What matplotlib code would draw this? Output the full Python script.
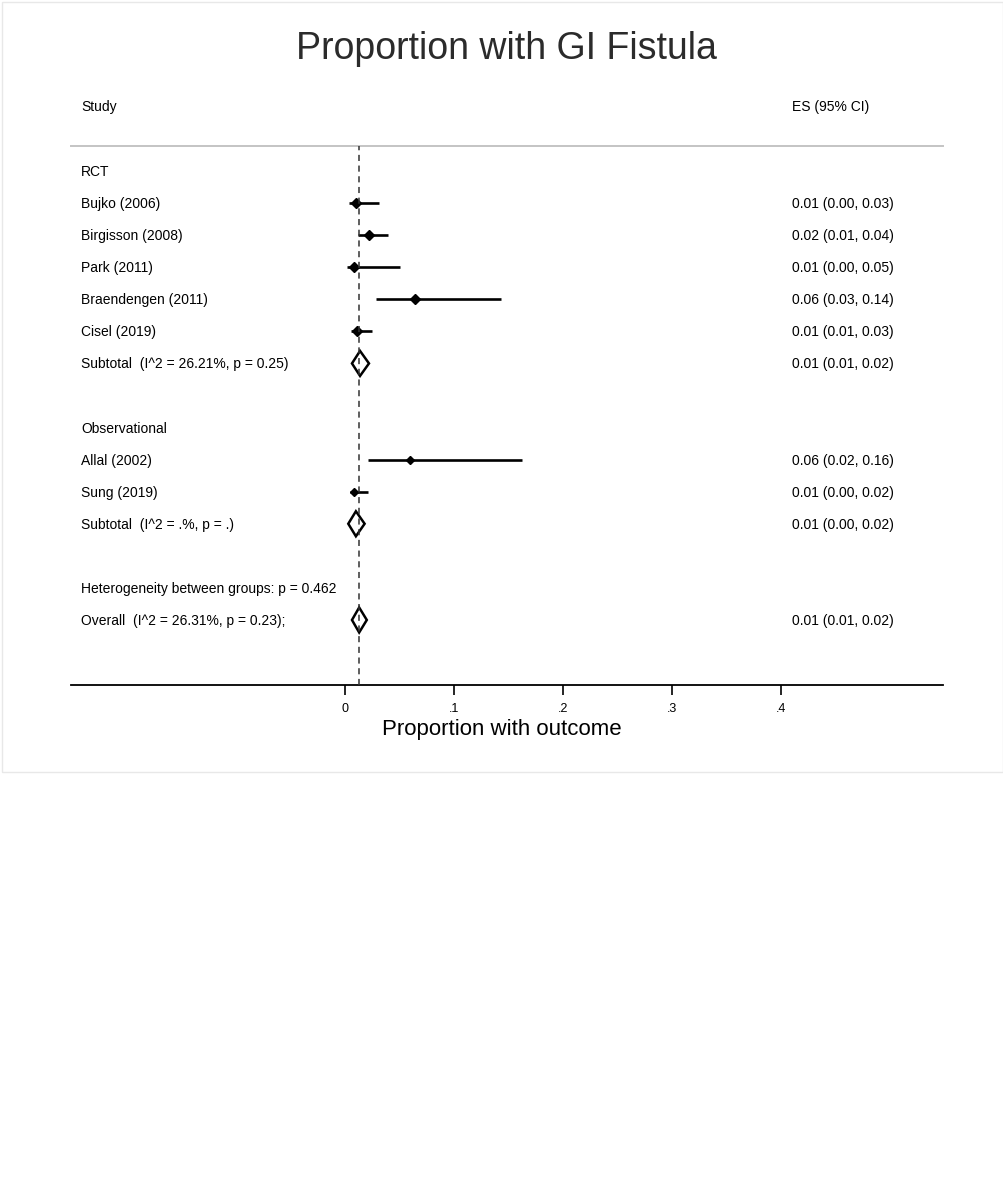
import matplotlib
matplotlib.use("Agg")
import matplotlib.pyplot as plt
import matplotlib.transforms as mtransforms
from matplotlib.patches import Polygon, Rectangle

plt.rcParams['font.family'] = ['Liberation Sans', 'DejaVu Sans']

# Datos
row_labels = ["RCT", "Bujko (2006)", "Birgisson (2008)", "Park (2011)", "Braendengen (2011)",
              "Cisel (2019)", "Subtotal  (I^2 = 26.21%, p = 0.25)", "",
              "Observational", "Allal (2002)", "Sung (2019)", "Subtotal  (I^2 = .%, p = .)", "",
              "Heterogeneity between groups: p = 0.462", "Overall  (I^2 = 26.31%, p = 0.23);"]
es_labels = ["", "0.01 (0.00, 0.03)", "0.02 (0.01, 0.04)", "0.01 (0.00, 0.05)", "0.06 (0.03, 0.14)",
             "0.01 (0.01, 0.03)", "0.01 (0.01, 0.02)", "",
             "", "0.06 (0.02, 0.16)", "0.01 (0.00, 0.02)", "0.01 (0.00, 0.02)", "",
             "", "0.01 (0.01, 0.02)"]

# estudios individuales: fila, estimacion, IC inferior, IC superior
study_rows = [1, 2, 3, 4, 5, 9, 10]
study_es = [0.010, 0.022, 0.008, 0.064, 0.011, 0.060, 0.008]
study_lo = [0.004, 0.012, 0.002, 0.028, 0.0055, 0.021, 0.0045]
study_hi = [0.031, 0.039, 0.050, 0.143, 0.025, 0.162, 0.021]
marker_ms = [5.5, 5.5, 5.5, 5, 5.5, 4.5, 4.5]

# subtotales y global (diamantes)
pooled_rows = [6, 11, 14]
pooled_es = [0.0138, 0.010, 0.013]
pooled_lo = [0.0064, 0.003, 0.0064]
pooled_hi = [0.022, 0.018, 0.020]

overall_es = 0.0128

xticks = [0, 0.1, 0.2, 0.3, 0.4]
xtick_labels = ["0", ".1", ".2", ".3", ".4"]

W, H = 1004, 1181
fig = plt.figure(figsize=(W / 100, H / 100), dpi=100)

# marco claro del grafico
fig.patches.append(Rectangle((2 / W, 1 - 772 / H), 1001 / W, 770 / H, transform=fig.transFigure,
                             fill=False, edgecolor='#e8e8e8', linewidth=1))

ax = fig.add_axes([71 / W, 1 - 685 / H, 872 / W, 539 / H])
ax.set_xlim((71 - 345) / 1090, (943 - 345) / 1090)
step = 32.07
ax.set_ylim((685 - 171) / step, (146 - 171) / step)

for s in ['left', 'right']:
    ax.spines[s].set_visible(False)
ax.spines['top'].set_color('#c4c4c4')
ax.spines['top'].set_linewidth(1.4)
ax.spines['bottom'].set_linewidth(1.3)
ax.set_yticks([])
ax.set_xticks(xticks)
ax.set_xticklabels(xtick_labels, fontsize=9)
ax.tick_params(axis='x', length=7, width=1.2, pad=6)
ax.set_xlabel("Proportion with outcome", fontsize=16)
ax.xaxis.set_label_coords((502 - 71) / 872, -(729 - 685) / 539)
ax.xaxis.label.set_va('center')

# lineas de IC y marcadores
for r, e, lo, hi, ms in zip(study_rows, study_es, study_lo, study_hi, marker_ms):
    ax.plot([lo, hi], [r, r], color='black', linewidth=1.9, solid_capstyle='butt', zorder=3)
    ax.plot(e, r, marker='D', color='black', markersize=ms, zorder=4)

# diamantes
h = 12.5 / step
for r, e, lo, hi in zip(pooled_rows, pooled_es, pooled_lo, pooled_hi):
    ax.add_patch(Polygon([(lo, r), (e, r - h), (hi, r), (e, r + h)], closed=True,
                         facecolor='white', edgecolor='black', linewidth=1.8, zorder=3))

ax.axvline(overall_es, color='#333333', linestyle=(0, (4, 3)), linewidth=1.1, zorder=5)

# textos
off = 1.0 / step
trans = mtransforms.blended_transform_factory(fig.transFigure, ax.transData)
for i, (lab, es) in enumerate(zip(row_labels, es_labels)):
    if lab:
        ax.text(81 / W, i + off, lab, transform=trans, fontsize=10, va='center', ha='left')
    if es:
        ax.text(792 / W, i + off, es, transform=trans, fontsize=10, va='center', ha='left')

head_y = (107 - 171) / step
ax.text(81 / W, head_y, "Study", transform=trans, fontsize=10, va='center', ha='left', clip_on=False)
ax.text(792 / W, head_y, "ES (95% CI)", transform=trans, fontsize=10, va='center', ha='left', clip_on=False)

fig.text(506.5 / W, 1 - 49 / H, "Proportion with GI Fistula", fontsize=27, color='#2b2b2b',
         ha='center', va='center')

fig.savefig("out.png", dpi=100)
